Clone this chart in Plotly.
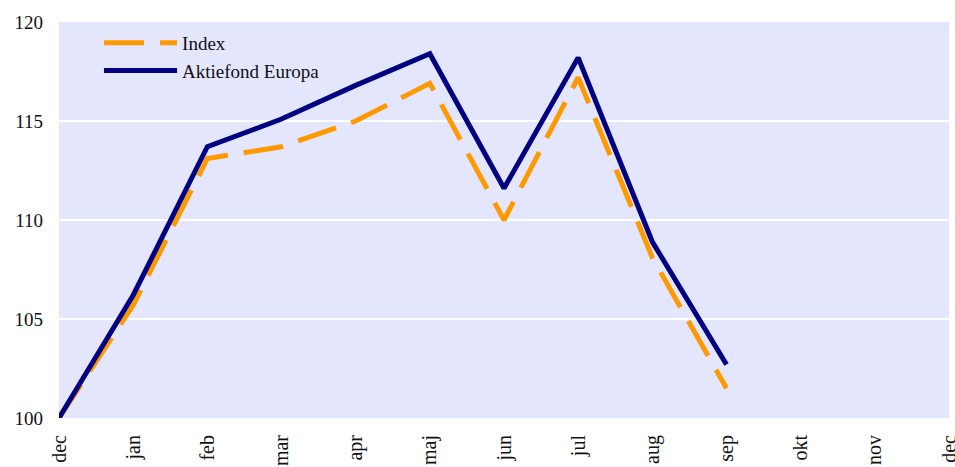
import plotly.graph_objects as go

months = ["dec", "jan", "feb", "mar", "apr", "maj", "jun", "jul", "aug", "sep", "okt", "nov", "dec"]
index_vals = [100.0, 105.7, 113.1, 113.7, 115.0, 116.9, 110.0, 117.2, 108.1, 101.5]
fund_vals = [100.0, 106.2, 113.7, 115.1, 116.8, 118.4, 111.6, 118.2, 108.9, 102.7]
y_ticks = [100, 105, 110, 115, 120]

xpos = list(range(len(months)))
font_family = "Liberation Serif, Times New Roman, serif"

fig = go.Figure()
fig.add_trace(go.Scatter(
    x=xpos[:len(index_vals)], y=index_vals, mode="lines", name="Index",
    line=dict(color="#FF9900", width=5, dash="40px,16px"),
))
fig.add_trace(go.Scatter(
    x=xpos[:len(fund_vals)], y=fund_vals, mode="lines", name="Aktiefond Europa",
    line=dict(color="#000080", width=5),
))

fig.update_layout(
    width=955, height=467,
    margin=dict(l=59, r=6, t=22, b=49),
    paper_bgcolor="white",
    plot_bgcolor="#E4E6FD",
    font=dict(family=font_family, size=19, color="#111111"),
    showlegend=True,
    legend=dict(
        x=0.045, y=0.995, xanchor="left", yanchor="top",
        bgcolor="rgba(0,0,0,0)", font=dict(size=19),
        traceorder="normal", itemwidth=73,
    ),
    xaxis=dict(
        range=[0, 12], tickmode="array", tickvals=xpos, ticktext=months,
        tickangle=-90, showgrid=False, zeroline=False, showline=False,
        ticks="", tickfont=dict(size=20), automargin=False,
        ticklabelstandoff=12, ticklabeloverflow="allow",
    ),
    yaxis=dict(
        range=[100, 120], tickmode="array", tickvals=y_ticks,
        showgrid=True, gridcolor="white", gridwidth=2, zeroline=False,
        showline=False, ticks="", tickfont=dict(size=19), automargin=False,
        ticklabelstandoff=15,
    ),
)

fig.write_html(
    "out.html",
    config={"displayModeBar": False},
    post_script="document.body.style.margin='0';document.body.style.overflow='hidden';",
)
